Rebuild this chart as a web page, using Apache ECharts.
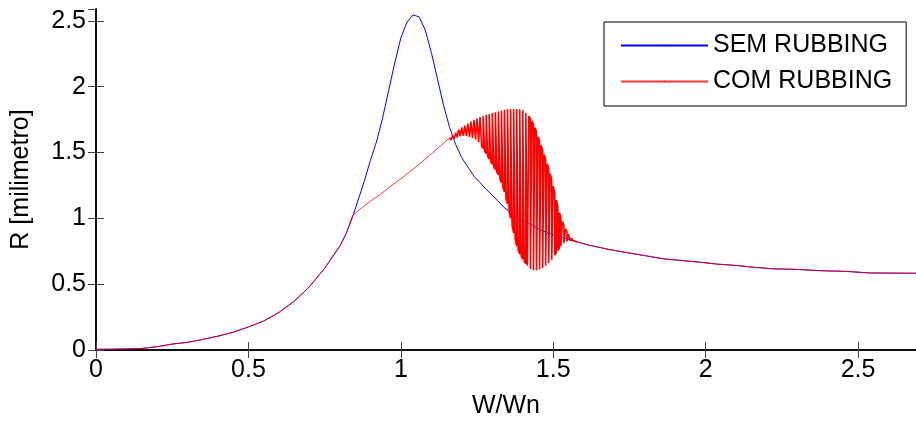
<!DOCTYPE html>
<html>
<head>
<meta charset="utf-8">
<script src="https://cdn.jsdelivr.net/npm/echarts@6/dist/echarts.min.js"></script>
<style>html,body{margin:0;padding:0;background:#fff;}#c{width:916px;height:424px;}</style>
</head>
<body>
<div id="c"></div>
<script>
// ---- data ----
var xTickLabels = ['0', '0.5', '1', '1.5', '2', '2.5'];
var yTickLabels = ['0', '0.5', '1', '1.5', '2', '2.5'];
var seriesNames = ['SEM RUBBING', 'COM RUBBING'];
var seriesColors = ['#0000ff', '#ff0000'];

// SEM RUBBING (blue)
var semX = [0, 0.05, 0.10, 0.15, 0.20, 0.25, 0.30, 0.35, 0.40, 0.45, 0.50, 0.55, 0.60, 0.65, 0.70, 0.75, 0.80, 0.82, 0.84,
  0.86, 0.88, 0.90, 0.92, 0.94, 0.96, 0.98, 1.00, 1.02, 1.04, 1.06, 1.08, 1.10, 1.12, 1.14, 1.16, 1.18, 1.20, 1.22, 1.24,
  1.26, 1.28, 1.30, 1.34, 1.38, 1.42, 1.46, 1.50, 1.54, 1.58, 1.62, 1.68, 1.74, 1.80, 1.86, 1.92, 1.98, 2.04, 2.10, 2.16,
  2.22, 2.30, 2.38, 2.46, 2.54, 2.62, 2.69];
var semR = [0.005, 0.006, 0.008, 0.012, 0.025, 0.045, 0.058, 0.08, 0.105, 0.135, 0.175, 0.22, 0.285, 0.37, 0.48, 0.62, 0.79, 0.88, 1.00,
  1.14, 1.28, 1.44, 1.58, 1.76, 1.97, 2.18, 2.37, 2.49, 2.545, 2.53, 2.43, 2.26, 2.06, 1.86, 1.69, 1.56, 1.46, 1.39, 1.32,
  1.27, 1.22, 1.175, 1.08, 1.01, 0.96, 0.91, 0.875, 0.846, 0.82, 0.795, 0.765, 0.74, 0.717, 0.693, 0.68, 0.667, 0.652, 0.642, 0.628,
  0.617, 0.612, 0.602, 0.597, 0.585, 0.584, 0.583];

// COM RUBBING (red): smooth part before the band
var comX1 = [0, 0.05, 0.10, 0.15, 0.20, 0.25, 0.30, 0.35, 0.40, 0.45, 0.50, 0.55, 0.60, 0.65, 0.70, 0.75, 0.80, 0.82, 0.842,
  0.87, 0.90, 0.93, 0.96, 1.00, 1.03, 1.06, 1.10, 1.13, 1.16];
var comR1 = [0.005, 0.006, 0.008, 0.012, 0.025, 0.045, 0.058, 0.08, 0.105, 0.135, 0.175, 0.22, 0.285, 0.37, 0.48, 0.62, 0.79, 0.88, 1.022,
  1.077, 1.13, 1.178, 1.232, 1.30, 1.355, 1.41, 1.49, 1.55, 1.612];
// COM RUBBING: oscillating band, upper and lower swing at each W/Wn
var bandX = [1.165, 1.170, 1.175, 1.180, 1.185, 1.190, 1.195, 1.200, 1.205, 1.210, 1.215, 1.220, 1.225, 1.230, 1.235, 1.240,
  1.245, 1.250, 1.255, 1.260, 1.265, 1.270, 1.275, 1.280, 1.285, 1.290, 1.295, 1.300, 1.305, 1.310, 1.315, 1.320, 1.325,
  1.330, 1.335, 1.340, 1.345, 1.350, 1.355, 1.360, 1.365, 1.370, 1.375, 1.380, 1.385, 1.390, 1.395, 1.400, 1.405, 1.410,
  1.415, 1.420, 1.425, 1.430, 1.435, 1.440, 1.445, 1.450, 1.455, 1.460, 1.465, 1.470, 1.475, 1.480, 1.485, 1.490, 1.495,
  1.500, 1.505, 1.510, 1.515, 1.520, 1.525, 1.530, 1.535, 1.540, 1.545, 1.550, 1.555, 1.560, 1.565, 1.570];
var bandUpper = [1.62, 1.63, 1.64, 1.65, 1.663, 1.675, 1.683, 1.69, 1.698, 1.705, 1.713, 1.72, 1.728, 1.735, 1.742, 1.748,
  1.753, 1.758, 1.764, 1.77, 1.774, 1.778, 1.782, 1.786, 1.79, 1.793, 1.797, 1.80, 1.803, 1.806, 1.809, 1.812, 1.815,
  1.818, 1.822, 1.825, 1.827, 1.828, 1.829, 1.83, 1.83, 1.83, 1.83, 1.83, 1.829, 1.828, 1.825, 1.82, 1.81, 1.80,
  1.788, 1.775, 1.758, 1.74, 1.715, 1.69, 1.655, 1.62, 1.588, 1.555, 1.52, 1.485, 1.45, 1.415, 1.378, 1.34, 1.293,
  1.245, 1.193, 1.14, 1.093, 1.045, 1.01, 0.975, 0.948, 0.92, 0.90, 0.88, 0.865, 0.85, 0.842, 0.835];
var bandLower = [1.595, 1.60, 1.605, 1.61, 1.615, 1.62, 1.623, 1.625, 1.626, 1.626, 1.624, 1.622, 1.619, 1.615, 1.61, 1.605,
  1.598, 1.59, 1.578, 1.565, 1.548, 1.53, 1.51, 1.49, 1.47, 1.45, 1.43, 1.41, 1.39, 1.37, 1.35, 1.33, 1.30,
  1.27, 1.235, 1.20, 1.155, 1.11, 1.055, 1.00, 0.945, 0.89, 0.84, 0.79, 0.76, 0.73, 0.71, 0.69, 0.672, 0.655,
  0.64, 0.625, 0.616, 0.608, 0.606, 0.605, 0.606, 0.608, 0.611, 0.615, 0.622, 0.63, 0.64, 0.65, 0.66, 0.67, 0.685,
  0.70, 0.72, 0.74, 0.758, 0.775, 0.788, 0.80, 0.81, 0.82, 0.825, 0.83, 0.831, 0.832, 0.831, 0.83];
// COM RUBBING: tail after the band
var comX2 = [1.58, 1.62, 1.68, 1.74, 1.80, 1.86, 1.92, 1.98, 2.04, 2.10, 2.16, 2.22, 2.30, 2.38, 2.46, 2.54, 2.62, 2.69];
var comR2 = [0.82, 0.795, 0.765, 0.74, 0.717, 0.693, 0.68, 0.667, 0.652, 0.642, 0.628, 0.617, 0.612, 0.602, 0.597, 0.585, 0.584, 0.583];

// ---- build series data ----
var semData = semX.map(function (x, i) { return [x, semR[i]]; });
var comSmooth = comX1.map(function (x, i) { return [x, comR1[i]]; });
comSmooth.push(['-', '-']);
comX2.forEach(function (x, i) { comSmooth.push([x, comR2[i]]); });
var last = comX1.length - 1;
var comBand = [[comX1[last], comR1[last]]];
bandX.forEach(function (x, i) {
  if (i % 2 === 0) { comBand.push([x, bandUpper[i]]); comBand.push([x, bandLower[i]]); }
  else { comBand.push([x, bandLower[i]]); comBand.push([x, bandUpper[i]]); }
});
comBand.push([comX2[0], comR2[0]]);

var FONT = "'Liberation Sans', Arial, Helvetica, sans-serif";
function tickFmt(labels) {
  return function (v) {
    var k = Math.round(v / 0.5);
    if (Math.abs(v - k * 0.5) > 1e-6 || k < 0 || k >= labels.length) return '';
    return labels[k];
  };
}
var axisLine = { show: true, lineStyle: { color: '#000', width: 1.5 } };
var tick = { show: true, inside: true, length: 8, lineStyle: { color: '#444', width: 1 } };

var chart = echarts.init(document.getElementById('c'), null, { renderer: 'canvas' });
chart.setOption({
  animation: false,
  backgroundColor: '#fff',
  color: seriesColors,
  grid: { left: 96, right: -1, top: 9, bottom: 72, containLabel: false },
  legend: {
    orient: 'vertical', left: 604, top: 22,
    padding: [11, 14, 12, 16], itemGap: 11,
    itemWidth: 87, itemHeight: 2,
    backgroundColor: '#fff', borderColor: '#000', borderWidth: 1,
    textStyle: { fontFamily: FONT, fontSize: 25, color: '#000', lineHeight: 25 },
    data: seriesNames,
    z: 10
  },
  xAxis: [{
    type: 'value', min: 0, max: 2.69, interval: 0.5,
    name: 'W/Wn', nameLocation: 'middle', nameGap: 44,
    nameTextStyle: { fontFamily: FONT, fontSize: 25, color: '#000' },
    axisLine: axisLine, axisTick: tick, splitLine: { show: false },
    axisLabel: { fontFamily: FONT, fontSize: 25, color: '#000', margin: 8, showMaxLabel: false, formatter: tickFmt(xTickLabels) }
  }, {
    type: 'value', position: 'top', min: 0, max: 2.69, interval: 0.5,
    axisLine: axisLine, axisTick: tick, splitLine: { show: false }, axisLabel: { show: false }
  }],
  yAxis: [{
    type: 'value', min: 0, max: 2.59, interval: 0.5,
    name: 'R [milimetro]', nameLocation: 'middle', nameGap: 62,
    nameTextStyle: { fontFamily: FONT, fontSize: 25, color: '#000' },
    axisLine: axisLine, axisTick: tick, splitLine: { show: false },
    axisLabel: { fontFamily: FONT, fontSize: 25, color: '#000', margin: 10, showMaxLabel: false, formatter: tickFmt(yTickLabels) }
  }, {
    type: 'value', position: 'right', min: 0, max: 2.59, interval: 0.5,
    axisLine: axisLine, axisTick: tick, splitLine: { show: false }, axisLabel: { show: false }
  }],
  series: [{
    name: seriesNames[0], type: 'line', data: semData, symbol: 'none', showSymbol: false,
    lineStyle: { color: seriesColors[0], width: 1 }, itemStyle: { color: seriesColors[0] }, z: 2
  }, {
    name: seriesNames[1], type: 'line', data: comSmooth, symbol: 'none', showSymbol: false, connectNulls: false,
    lineStyle: { color: seriesColors[1], width: 1, opacity: 0.8 }, itemStyle: { color: seriesColors[1] }, z: 3
  }, {
    name: seriesNames[1], type: 'line', data: comBand, symbol: 'none', showSymbol: false,
    lineStyle: { color: seriesColors[1], width: 1.6, opacity: 1 }, itemStyle: { color: seriesColors[1] }, z: 3
  }]
});
</script>
</body>
</html>
